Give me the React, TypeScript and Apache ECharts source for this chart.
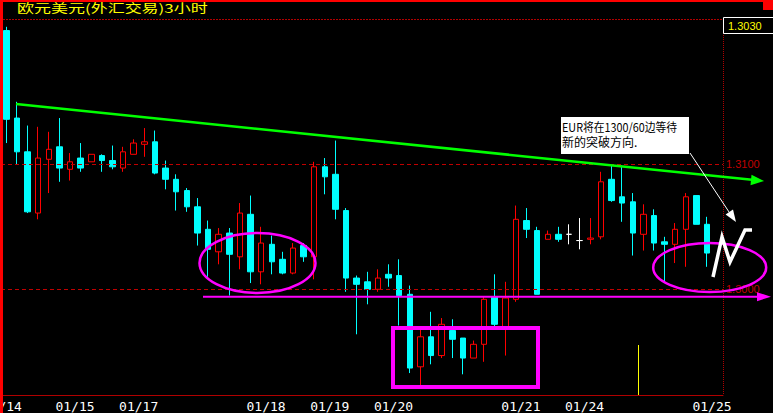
import React, { useEffect, useRef } from 'react';
import * as echarts from 'echarts';

const barCount = 68;
const dayStarts = [0, 5, 11, 23, 29, 35, 47, 53, 65];
const dayLabels = ['01/14', '01/15', '01/17', '01/18', '01/19', '01/20', '01/21', '01/24', '01/25'];

const opens = [1.3207, 1.3137, 1.3110, 1.3061, 1.3104, 1.3114, 1.3096, 1.3105, 1.3102, 1.3107, 1.3103, 1.3097, 1.3108, 1.3116, 1.3118, 1.3097, 1.3088, 1.3079, 1.3066, 1.3048, 1.3030, 1.3045, 1.3026, 1.3060, 1.3014, 1.3036, 1.3024, 1.3013, 1.3035, 1.3026, 1.3098, 1.3092, 1.3063, 1.3009, 1.3006, 1.3000, 1.3012, 1.3011, 1.2996, 1.2938, 1.2962, 1.2947, 1.2967, 1.2961, 1.2945, 1.2956, 1.2994, 1.2969, 1.2992, 1.3055, 1.3047, 1.3040, 1.3044, 1.3044, 1.3039, 1.3040, 1.3042, 1.3088, 1.3074, 1.3070, 1.3044, 1.3059, 1.3038, 1.3036, 1.3048, 1.3075, 1.3052];
const closes = [1.3136, 1.3110, 1.3062, 1.3105, 1.3112, 1.3097, 1.3102, 1.3097, 1.3108, 1.3103, 1.3098, 1.3110, 1.3117, 1.3118, 1.3093, 1.3088, 1.3078, 1.3066, 1.3045, 1.3032, 1.3044, 1.3028, 1.3061, 1.3014, 1.3037, 1.3022, 1.3013, 1.3033, 1.3026, 1.3098, 1.3090, 1.3064, 1.3009, 1.3004, 1.3000, 1.3009, 1.3009, 1.2995, 1.2937, 1.2962, 1.2947, 1.2972, 1.2960, 1.2945, 1.2956, 1.2992, 1.2972, 1.2993, 1.3056, 1.3048, 1.2996, 1.3044, 1.3040, 1.3044, 1.3039, 1.3041, 1.3086, 1.3071, 1.3069, 1.3045, 1.3060, 1.3037, 1.3036, 1.3048, 1.3074, 1.3052, 1.3029];
const lows = [1.3117, 1.3100, 1.3061, 1.3056, 1.3077, 1.3086, 1.3087, 1.3094, 1.3102, 1.3094, 1.3096, 1.3094, 1.3108, 1.3106, 1.3092, 1.3080, 1.3063, 1.3062, 1.3035, 1.3010, 1.3020, 1.2995, 1.3016, 1.3005, 1.3004, 1.3012, 1.3012, 1.3012, 1.3022, 1.3008, 1.3076, 1.3056, 1.2998, 1.2964, 1.2988, 1.2998, 1.3002, 1.2971, 1.2933, 1.2923, 1.2940, 1.2945, 1.2945, 1.2932, 1.2945, 1.2942, 1.2970, 1.2947, 1.2990, 1.3041, 1.2996, 1.3040, 1.3038, 1.3036, 1.3032, 1.3036, 1.3040, 1.3070, 1.3054, 1.3027, 1.3031, 1.3031, 1.3006, 1.3021, 1.3018, 1.3052, 1.3018];
const highs = [1.3210, 1.3150, 1.3131, 1.3130, 1.3126, 1.3137, 1.3109, 1.3117, 1.3108, 1.3108, 1.3115, 1.3114, 1.3120, 1.3129, 1.3127, 1.3103, 1.3092, 1.3081, 1.3073, 1.3055, 1.3049, 1.3049, 1.3069, 1.3075, 1.3050, 1.3043, 1.3030, 1.3037, 1.3037, 1.3102, 1.3105, 1.3119, 1.3065, 1.3011, 1.3014, 1.3016, 1.3020, 1.3024, 1.3003, 1.2968, 1.2982, 1.2977, 1.2976, 1.2961, 1.2959, 1.2994, 1.3012, 1.3006, 1.3067, 1.3065, 1.3050, 1.3047, 1.3050, 1.3052, 1.3057, 1.3057, 1.3094, 1.3099, 1.3099, 1.3077, 1.3068, 1.3064, 1.3042, 1.3053, 1.3077, 1.3075, 1.3058];

const priceLines = [1.31, 1.30];
const lastPriceLabel = '1.3030';
const titleText = '欧元美元(外汇交易)3小时';
const noteLines = ['EUR将在1300/60边等待', '新的突破方向.'];

const Y_MIN = 1.291544;
const Y_MAX = 1.321544;

function buildOption() {
  const categories = Array.from({ length: barCount }, (_, i) => {
    if (i === 0) {
      return { value: 'b' + i, textStyle: { padding: [0, 0, 0, -8] } };
    }
    return { value: 'b' + i };
  });
  const labelFor = (i: number) => {
    const k = dayStarts.indexOf(i);
    return k >= 0 ? dayLabels[k] : '';
  };
  const data = opens.map((o, i) => {
    const v = [o, closes[i], lows[i], highs[i]];
    if (o === closes[i]) {
      return {
        value: v,
        itemStyle: { borderColor: '#ffffff', borderColor0: '#ffffff', borderColorDoji: '#ffffff' },
      };
    }
    return v;
  });

  const Z = 100;
  const graphic: any[] = [
    // frame
    { type: 'rect', z: Z, shape: { x: 0, y: 0, width: 773, height: 2 }, style: { fill: '#ff0000' } },
    { type: 'rect', z: Z, shape: { x: 763, y: 0, width: 10, height: 10 }, style: { fill: '#ff0000' } },
    { type: 'rect', z: Z, shape: { x: 0, y: 0, width: 3, height: 413 }, style: { fill: '#ff0000' } },
    { type: 'line', z: Z, shape: { x1: 3, y1: 19.5, x2: 723, y2: 19.5 }, style: { stroke: '#b00000', lineWidth: 1, lineDash: [2, 1] } },
    { type: 'line', z: Z, shape: { x1: 723.5, y1: 19, x2: 723.5, y2: 395 }, style: { stroke: '#b00000', lineWidth: 1, lineDash: [1, 1] } },
    {
      type: 'text', z: Z, x: 17, y: 8, scaleY: 0.72,
      style: { text: titleText, fill: '#ffff00', font: '17px "Noto Sans CJK SC"', align: 'left', verticalAlign: 'middle' },
    },
    // last price box
    { type: 'rect', z: Z, shape: { x: 723.5, y: 17.5, width: 55, height: 16 }, style: { fill: '#000', stroke: '#ffffff', lineWidth: 1 } },
    {
      type: 'text', z: Z + 1, x: 728, y: 25.5,
      style: { text: lastPriceLabel, fill: '#ffff00', font: '11px "Liberation Sans"', align: 'left', verticalAlign: 'middle' },
    },
    // green trend line
    { type: 'polyline', z: Z, shape: { points: [[16, 104], [752, 179.8]] }, style: { stroke: '#00ff00', lineWidth: 2.5, fill: 'none' } },
    { type: 'polygon', z: Z, shape: { points: [[764, 181.1], [751.5, 174.8], [750.5, 185.3]] }, style: { fill: '#00ff00' } },
    // magenta support line
    { type: 'line', z: Z, shape: { x1: 203, y1: 296.7, x2: 759, y2: 296.7 }, style: { stroke: '#ff00ff', lineWidth: 2 } },
    { type: 'polygon', z: Z, shape: { points: [[771, 296.7], [757, 292.2], [757, 301.2]] }, style: { fill: '#ff00ff' } },
    // ellipses
    { type: 'ellipse', z: Z, shape: { cx: 257.5, cy: 263, rx: 58, ry: 30 }, style: { stroke: '#ff00ff', lineWidth: 2.5, fill: 'none' } },
    { type: 'ellipse', z: Z, shape: { cx: 709.7, cy: 267.5, rx: 56.5, ry: 24.5 }, style: { stroke: '#ff00ff', lineWidth: 2.5, fill: 'none' } },
    // rectangle
    { type: 'rect', z: Z, shape: { x: 393, y: 328, width: 145, height: 59 }, style: { stroke: '#ff00ff', lineWidth: 4, fill: 'none' } },
    // callout
    { type: 'rect', z: Z, shape: { x: 561, y: 117, width: 128, height: 37 }, style: { fill: '#ffffff' } },
    {
      type: 'text', z: Z + 1, x: 562, y: 127, scaleX: 0.9,
      style: { text: noteLines[0], fill: '#000000', font: '12px "Noto Sans CJK SC"', align: 'left', verticalAlign: 'middle' },
    },
    {
      type: 'text', z: Z + 1, x: 562, y: 141.5,
      style: { text: noteLines[1], fill: '#000000', font: '12px "Noto Sans CJK SC"', align: 'left', verticalAlign: 'middle' },
    },
    { type: 'line', z: Z, shape: { x1: 690, y1: 153, x2: 731, y2: 215 }, style: { stroke: '#ffffff', lineWidth: 1 } },
    { type: 'polygon', z: Z, shape: { points: [[736, 222], [725.6, 214.5], [733, 209.5]] }, style: { fill: '#ffffff' } },
    // hand drawn N
    {
      type: 'polyline', z: Z,
      shape: { points: [[713, 277], [722, 237], [730, 262], [745, 230], [752, 230]] },
      style: { stroke: '#ffffff', lineWidth: 3.5, fill: 'none', lineJoin: 'miter' },
    },
    // yellow marker
    { type: 'line', z: Z, shape: { x1: 638.5, y1: 345, x2: 638.5, y2: 395 }, style: { stroke: '#ffff00', lineWidth: 1 } },
  ];

  return {
    animation: false,
    backgroundColor: '#000000',
    grid: { left: 1, right: 50, top: 20, bottom: 18, containLabel: false, outerBoundsMode: 'none' },
    xAxis: {
      type: 'category',
      data: categories,
      boundaryGap: true,
      axisLine: { show: true, lineStyle: { color: '#b00000', width: 1 } },
      axisTick: { show: false },
      splitLine: { show: false },
      axisLabel: {
        interval: 0,
        formatter: (_v: string, i: number) => labelFor(i),
        color: '#ffffff',
        fontFamily: '"DejaVu Sans Mono"',
        fontSize: 13,
        align: 'left',
        margin: 5,
        padding: [0, 0, 0, -4],
      },
    },
    yAxis: {
      type: 'value',
      min: Y_MIN,
      max: Y_MAX,
      scale: true,
      axisLine: { show: false },
      axisTick: { show: false },
      axisLabel: { show: false },
      splitLine: { show: false },
    },
    series: [
      {
        type: 'candlestick',
        data,
        barWidth: 6,
        itemStyle: {
          color: '#000000',
          color0: '#00ffff',
          borderColor: '#ff0000',
          borderColor0: '#00ffff',
          borderColorDoji: '#ffffff',
          borderWidth: 1,
        },
        markLine: {
          silent: true,
          symbol: ['none', 'none'],
          animation: false,
          lineStyle: { color: '#c00000', type: [4, 3], width: 1 },
          label: {
            show: true,
            position: 'end',
            distance: 3,
            formatter: (p: any) => Number(p.value).toFixed(4),
            color: '#c00000',
            fontSize: 11,
            fontFamily: '"Liberation Sans"',
          },
          data: priceLines.map((v) => ({ yAxis: v })),
        },
      },
    ],
    graphic,
  };
}

export default function App() {
  const ref = useRef<HTMLDivElement>(null);
  useEffect(() => {
    if (!ref.current) return;
    const chart = echarts.init(ref.current, null, { renderer: 'svg' });
    chart.setOption(buildOption() as any);
    return () => chart.dispose();
  }, []);
  return (
    <div
      ref={ref}
      style={{ position: 'fixed', left: 0, top: 0, width: 773, height: 413, background: '#000' }}
    />
  );
}
